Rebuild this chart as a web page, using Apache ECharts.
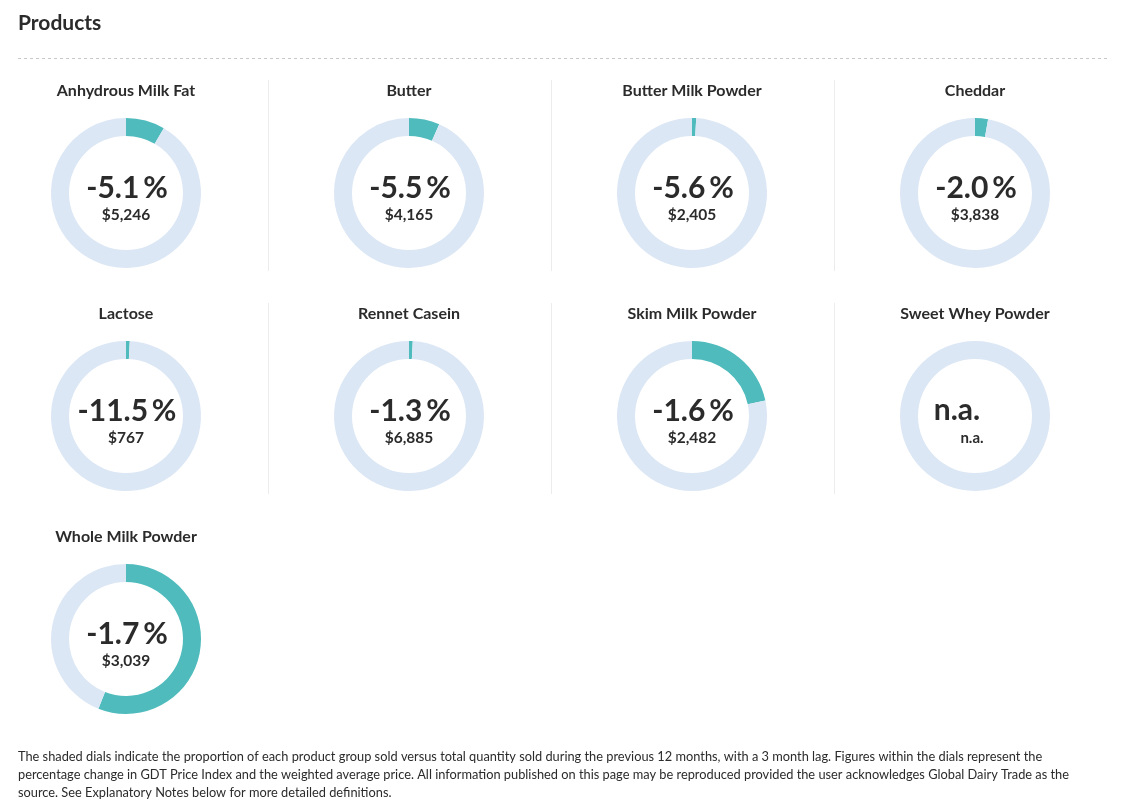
<!DOCTYPE html>
<html>
<head>
<meta charset="utf-8">
<script src="https://cdn.jsdelivr.net/npm/echarts@6/dist/echarts.min.js"></script>
<style>
html,body{margin:0;padding:0;background:#fff;}
#c{width:1123px;height:810px;}
</style>
</head>
<body>
<div id="c"></div>
<script>
// ---- data ----
const products = ['Anhydrous Milk Fat', 'Butter', 'Butter Milk Powder', 'Cheddar',
  'Lactose', 'Rennet Casein', 'Skim Milk Powder', 'Sweet Whey Powder', 'Whole Milk Powder'];
// share (%) of total quantity sold (shaded part of dial)
const shares = [8.4, 6.6, 0.9, 2.8, 0.8, 0.8, 21.7, 0, 56.0];
// % change in GDT Price Index (null = n.a.)
const changes = [-5.1, -5.5, -5.6, -2.0, -11.5, -1.3, -1.6, null, -1.7];
// weighted average price (USD)
const prices = [5246, 4165, 2405, 3838, 767, 6885, 2482, null, 3039];
const footerLines = [
  'The shaded dials indicate the proportion of each product group sold versus total quantity sold during the previous 12 months, with a 3 month lag. Figures within the dials represent the',
  'percentage change in GDT Price Index and the weighted average price. All information published on this page may be reproduced provided the user acknowledges Global Dairy Trade as the',
  'source. See Explanatory Notes below for more detailed definitions.'
];

// ---- layout ----
const FONT = 'Lato, "Noto Sans", sans-serif';
const COLS = 4, COL0 = 126, COLW = 283, ROW0 = 193, ROWH = 223;
const TEAL = '#4fbbbc', LIGHT = '#dce7f5', TXT = '#2b2b2b';

const chart = echarts.init(document.getElementById('c'), null, {renderer: 'canvas'});
const series = [];
const graphic = [];

graphic.push({type: 'text', x: 18, y: 23, style: {text: 'Products', font: 'bold 21px ' + FONT, fill: TXT, align: 'left', verticalAlign: 'middle'}});
graphic.push({type: 'line', shape: {x1: 18, y1: 58.5, x2: 1110, y2: 58.5}, style: {stroke: '#c8c8c8', lineWidth: 1, lineDash: [3, 3]}});

// vertical separators
for (let r = 0; r < 2; r++) {
  for (let c = 1; c < COLS; c++) {
    const x = Math.round(COL0 + (c - 0.5) * COLW) + 0.5;
    graphic.push({type: 'line', shape: {x1: x, y1: 80 + r * ROWH, x2: x, y2: 271 + r * ROWH}, style: {stroke: '#ececec', lineWidth: 1}});
  }
}

const fmtPrice = v => '$' + v.toLocaleString('en-US');

products.forEach((name, i) => {
  const col = i % COLS, row = Math.floor(i / COLS);
  const cx = COL0 + col * COLW, cy = ROW0 + row * ROWH;
  const s = shares[i];
  const data = [];
  if (s > 0) data.push({value: s, name: name, itemStyle: {color: TEAL}});
  data.push({value: 100 - s, name: 'Other', itemStyle: {color: LIGHT}});
  series.push({
    type: 'pie', center: [cx, cy], radius: [57, 75], startAngle: 90, clockwise: true,
    silent: true, animation: false, label: {show: false}, labelLine: {show: false},
    avoidLabelOverlap: false, minAngle: 0, data: data
  });
  graphic.push({type: 'text', x: cx, y: cy - 102, style: {text: name, font: 'bold 16px ' + FONT, fill: TXT, align: 'center', verticalAlign: 'middle'}});
  if (changes[i] === null) {
    graphic.push({type: 'text', x: cx - 18, y: cy - 6, style: {text: 'n.a.', font: 'bold 30px ' + FONT, fill: TXT, align: 'center', verticalAlign: 'middle'}});
    graphic.push({type: 'text', x: cx - 3, y: cy + 22, style: {text: 'n.a.', font: 'bold 15px ' + FONT, fill: TXT, align: 'center', verticalAlign: 'middle'}});
  } else {
    graphic.push({type: 'text', x: cx + 1, y: cy - 5, style: {text: changes[i].toFixed(1) + '\u2009%', font: 'bold 30px ' + FONT, fill: TXT, align: 'center', verticalAlign: 'middle'}});
    graphic.push({type: 'text', x: cx, y: cy + 22, style: {text: fmtPrice(prices[i]), font: 'bold 15.5px ' + FONT, fill: TXT, align: 'center', verticalAlign: 'middle'}});
  }
});

footerLines.forEach((line, k) => {
  graphic.push({type: 'text', x: 18, y: 757 + k * 18, style: {text: line, font: '12.8px ' + FONT, fill: TXT, align: 'left', verticalAlign: 'middle'}});
});

chart.setOption({animation: false, series: series, graphic: graphic});
</script>
</body>
</html>
